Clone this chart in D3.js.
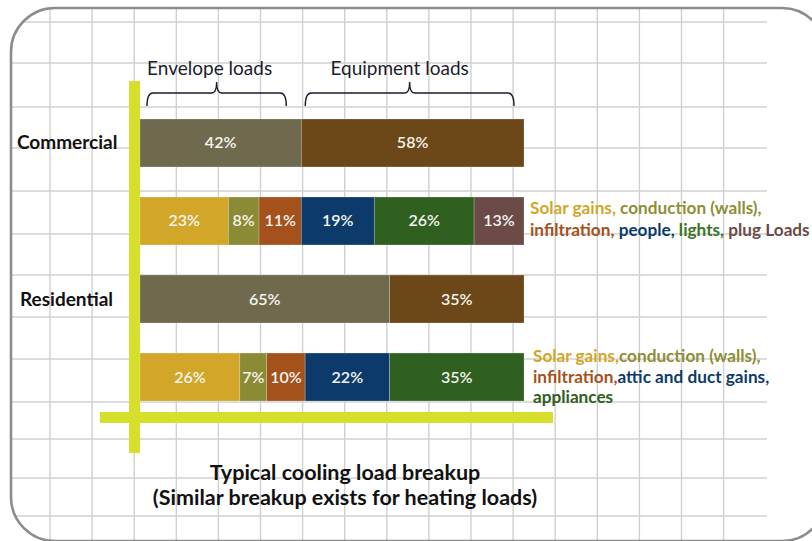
<!DOCTYPE html>
<html>
<head>
<meta charset="utf-8">
<script src="https://cdn.jsdelivr.net/npm/d3@7"></script>
<style>
  html, body { margin: 0; padding: 0; background: #ffffff; }
  svg { display: block; }
</style>
</head>
<body>
<svg id="chart" width="812" height="541"></svg>
<script>
// ---------------- DATA ----------------
const categories = ["Commercial", "Residential"];
const groupLabels = ["Envelope loads", "Equipment loads"];
const commercialSummary = [42, 58];
const residentialSummary = [65, 35];
const commercialBreakup = [23, 8, 11, 19, 26, 13];
const commercialComponents = ["Solar gains", "conduction (walls)", "infiltration", "people", "lights", "plug Loads"];
const residentialBreakup = [26, 7, 10, 22, 35];
const residentialComponents = ["Solar gains", "conduction (walls)", "infiltration", "attic and duct gains", "appliances"];
const titleLines = ["Typical cooling load breakup", "(Similar breakup exists for heating loads)"];

// ---------------- STYLE ----------------
const summaryColors = ["#6f6a4e", "#6c4819"];
const componentColors = {
  "Solar gains": "#d2a628",
  "conduction (walls)": "#8b8b35",
  "infiltration": "#a5511b",
  "people": "#0c3b6b",
  "attic and duct gains": "#0c3b6b",
  "lights": "#2f6020",
  "appliances": "#2f6020",
  "plug Loads": "#6c4a48"
};
const textColors = {
  "Solar gains": "#d2a628",
  "conduction (walls)": "#8e8e35",
  "infiltration": "#a5511b",
  "people": "#0c3b6b",
  "attic and duct gains": "#0c3b6b",
  "lights": "#3a7424",
  "appliances": "#2f6020",
  "plug Loads": "#6c4a48"
};
const FONT = "Lato, 'Open Sans', sans-serif";

const svg = d3.select("#chart");

// ---------------- FRAME & GRID ----------------
const frame = { x: 11, y: 8, w: 815, h: 533, r: 44 };
svg.append("defs").append("clipPath").attr("id", "frameClip")
  .append("rect").attr("x", frame.x).attr("y", frame.y)
  .attr("width", frame.w).attr("height", frame.h).attr("rx", frame.r).attr("ry", frame.r);

const grid = svg.append("g").attr("clip-path", "url(#frameClip)");
const vLines = d3.range(0, 17).map(i => 50 + i * 42.1);
const hLines = [22, 63, 107, 148, 191, 234, 275, 317, 359, 402, 439, 478, 516];
grid.selectAll("line.v").data(vLines).join("line")
  .attr("x1", d => d).attr("x2", d => d).attr("y1", 0).attr("y2", 541)
  .attr("stroke", "#d0d0d0").attr("stroke-width", 1.4);
grid.selectAll("line.h").data(hLines).join("line")
  .attr("x1", 0).attr("x2", 767).attr("y1", d => d).attr("y2", d => d)
  .attr("stroke", "#d0d0d0").attr("stroke-width", 1.4);

svg.append("rect").attr("x", frame.x).attr("y", frame.y)
  .attr("width", frame.w).attr("height", frame.h).attr("rx", frame.r).attr("ry", frame.r)
  .attr("fill", "none").attr("stroke", "#8c8c8c").attr("stroke-width", 2.6);

// ---------------- SCALES ----------------
const x = d3.scaleLinear().domain([0, 100]).range([140, 524]);
const rows = ["Commercial-summary", "Commercial-breakup", "Residential-summary", "Residential-breakup"];
const y = d3.scaleBand().domain(rows).range([119, 401]).paddingInner(0.385).paddingOuter(0);

function stack(values) {
  let acc = 0;
  return values.map(v => { const s = acc; acc += v; return { start: s, end: acc, value: v }; });
}

const rowData = [
  { row: rows[0], segs: stack(commercialSummary).map((s, i) => ({ ...s, color: summaryColors[i] })) },
  { row: rows[1], segs: stack(commercialBreakup).map((s, i) => ({ ...s, color: componentColors[commercialComponents[i]] })) },
  { row: rows[2], segs: stack(residentialSummary).map((s, i) => ({ ...s, color: summaryColors[i] })) },
  { row: rows[3], segs: stack(residentialBreakup).map((s, i) => ({ ...s, color: componentColors[residentialComponents[i]] })) }
];

// ---------------- AXIS BARS (yellow) ----------------
svg.append("rect").attr("x", 129).attr("y", 81).attr("width", 11).attr("height", 372).attr("fill", "#d6df2b");
svg.append("rect").attr("x", 100).attr("y", 412).attr("width", 453).attr("height", 11).attr("fill", "#d6df2b");

// ---------------- BARS ----------------
const rowG = svg.selectAll("g.row").data(rowData).join("g").attr("class", "row");
rowG.selectAll("rect").data(d => d.segs.map(s => ({ ...s, row: d.row }))).join("rect")
  .attr("x", d => x(d.start))
  .attr("y", d => y(d.row))
  .attr("width", d => x(d.end) - x(d.start))
  .attr("height", y.bandwidth())
  .attr("fill", d => d.color)
  .attr("stroke", "rgba(255,255,255,0.35)")
  .attr("stroke-width", 0.6);
rowG.selectAll("text").data(d => d.segs.map(s => ({ ...s, row: d.row }))).join("text")
  .attr("x", d => (x(d.start) + x(d.end)) / 2)
  .attr("y", d => y(d.row) + y.bandwidth() / 2 + 5.5)
  .attr("text-anchor", "middle")
  .attr("font-family", FONT).attr("font-size", 16).attr("font-weight", 600)
  .attr("fill", "#f4f4f0")
  .text(d => d.value + "%");

// ---------------- CATEGORY LABELS ----------------
svg.selectAll("text.cat").data(categories).join("text").attr("class", "cat")
  .attr("x", (d, i) => i === 0 ? 17 : 20)
  .attr("y", (d, i) => y(rows[i * 2]) + y.bandwidth() / 2 + 6.5)
  .attr("font-family", FONT).attr("font-size", 19).attr("font-weight", 700)
  .attr("fill", "#111")
  .text(d => d);

// ---------------- BRACES ----------------
function brace(x1, x2, yLine) {
  const cx = (x1 + x2) / 2;
  return `M${x1},${yLine + 13} Q${x1},${yLine} ${x1 + 6},${yLine} H${cx - 5} Q${cx},${yLine} ${cx},${yLine - 11} Q${cx},${yLine} ${cx + 5},${yLine} H${x2 - 6} Q${x2},${yLine} ${x2},${yLine + 13}`;
}
const braceData = [
  { label: groupLabels[0], x1: x(0) + 7, x2: x(commercialSummary[0]) - 15, shift: -7 },
  { label: groupLabels[1], x1: x(commercialSummary[0]) + 4, x2: x(100) - 10, shift: -10 }
];
svg.selectAll("path.brace").data(braceData).join("path").attr("class", "brace")
  .attr("d", d => brace(d.x1, d.x2, 93))
  .attr("fill", "none").attr("stroke", "#1c1c2c").attr("stroke-width", 1.4);
svg.selectAll("text.grp").data(braceData).join("text").attr("class", "grp")
  .attr("x", d => (d.x1 + d.x2) / 2 + d.shift)
  .attr("y", 75)
  .attr("text-anchor", "middle")
  .attr("font-family", FONT).attr("font-size", 19).attr("font-weight", 400)
  .attr("fill", "#1c1c2c")
  .text(d => d.label);

// ---------------- RIGHT ANNOTATIONS ----------------
function annot(lines, x0, y0, lh) {
  const t = svg.append("text").attr("font-family", FONT).attr("font-size", 17.2).attr("font-weight", 700);
  lines.forEach((line, li) => {
    line.forEach((part, pi) => {
      const ts = t.append("tspan").attr("fill", textColors[part.key] || "#333").text(part.text);
      if (pi === 0) ts.attr("x", x0).attr("y", y0 + li * lh);
    });
  });
}
const cc = commercialComponents;
annot([
  [{ key: cc[0], text: cc[0] + ", " }, { key: cc[1], text: cc[1] + "," }],
  [{ key: cc[2], text: cc[2] + ", " }, { key: cc[3], text: cc[3] + ", " }, { key: cc[4], text: cc[4] + ", " }, { key: cc[5], text: cc[5] }]
], 530, 214, 21.5);
const rc = residentialComponents;
annot([
  [{ key: rc[0], text: rc[0] + "," }, { key: rc[1], text: rc[1] + "," }],
  [{ key: rc[2], text: rc[2] + "," }, { key: rc[3], text: rc[3] + "," }],
  [{ key: rc[4], text: rc[4] }]
], 533, 362, 20.5);

// ---------------- TITLE ----------------
svg.selectAll("text.title").data(titleLines).join("text").attr("class", "title")
  .attr("x", 345).attr("y", (d, i) => 480 + i * 25)
  .attr("text-anchor", "middle")
  .attr("font-family", FONT).attr("font-size", 21.5).attr("font-weight", 700)
  .attr("fill", "#111")
  .text(d => d);
</script>
</body>
</html>
